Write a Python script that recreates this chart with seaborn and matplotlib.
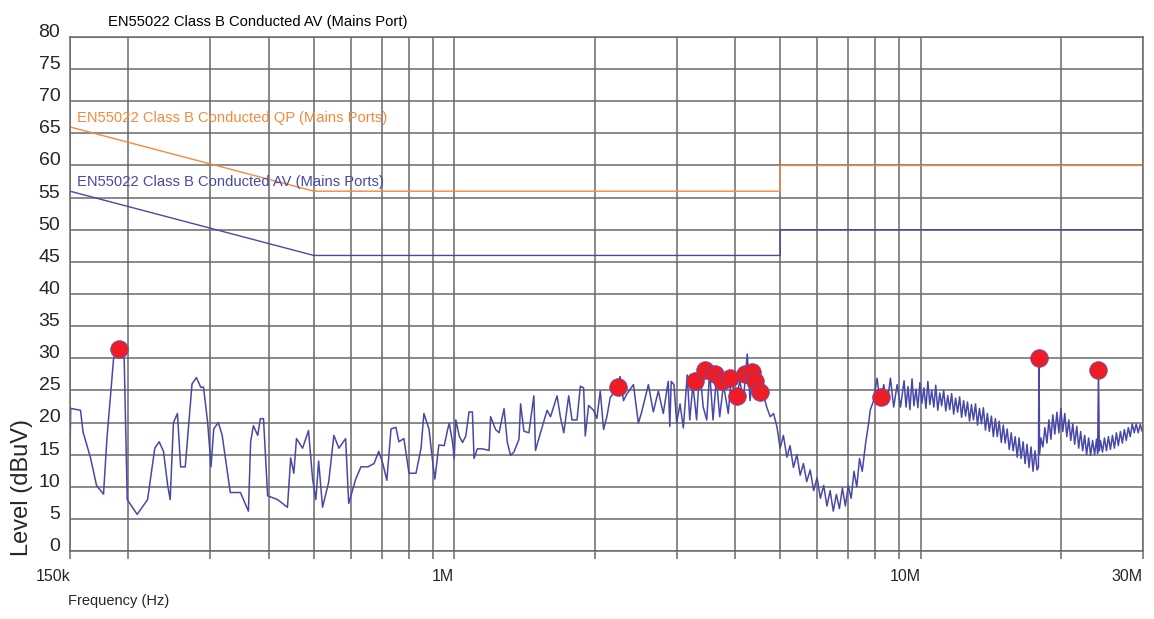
import numpy as np
import pandas as pd
import matplotlib
matplotlib.use('Agg')
import matplotlib.pyplot as plt
import seaborn as sns
from matplotlib.ticker import FixedLocator, NullFormatter

low_freq = [0.150, 0.1505, 0.158, 0.160, 0.166, 0.171, 0.177, 0.180, 0.186, 0.190,
            0.196, 0.199, 0.209, 0.220, 0.228, 0.233, 0.238, 0.243, 0.246, 0.250,
            0.255, 0.259, 0.265, 0.274, 0.280, 0.286, 0.290, 0.296, 0.301, 0.305,
            0.312, 0.318, 0.331, 0.348, 0.362, 0.366, 0.371, 0.379, 0.384, 0.390,
            0.398, 0.418, 0.439, 0.446, 0.453, 0.459, 0.473, 0.487, 0.497, 0.505,
            0.512, 0.522, 0.538, 0.552, 0.566, 0.585, 0.594, 0.615, 0.631, 0.653,
            0.673, 0.689, 0.703, 0.717, 0.732, 0.750, 0.761, 0.780, 0.800, 0.828,
            0.849, 0.861, 0.883, 0.900, 0.909, 0.927]
low_level = [15.0, 22.2, 21.9, 18.5, 14.5, 10.2, 8.85, 17.5, 29.9, 31.5,
             29.9, 8.0, 5.7, 8.0, 16.0, 17.0, 15.5, 10.2, 8.0, 20.0,
             21.4, 13.1, 13.1, 26.0, 27.0, 25.5, 25.5, 20.0, 13.1, 19.0,
             20.0, 18.0, 9.1, 9.1, 6.2, 17.0, 19.5, 18.0, 20.6, 20.6,
             8.6, 8.0, 6.8, 14.5, 12.1, 17.5, 16.0, 18.75, 11.2, 8.0,
             14.0, 6.8, 10.7, 18.0, 16.0, 17.5, 7.4, 11.2, 13.1, 13.1,
             13.6, 15.5, 13.6, 11.0, 19.0, 19.25, 17.0, 17.5, 12.1, 12.1,
             16.0, 21.4, 19.0, 13.6, 11.2, 16.5]

mid_freq = [0.952, 0.968, 0.976, 0.992, 1.0, 1.008, 1.025, 1.042, 1.059, 1.076,
            1.094, 1.103, 1.121, 1.15, 1.188, 1.197, 1.227, 1.248, 1.279, 1.3,
            1.321, 1.343, 1.377, 1.388, 1.411, 1.446, 1.482, 1.494, 1.531, 1.582,
            1.609, 1.662, 1.689, 1.718, 1.76, 1.789, 1.834, 1.864, 1.895, 1.91,
            1.942, 1.99, 2.023, 2.057, 2.091, 2.125, 2.161, 2.214, 2.269, 2.307,
            2.344, 2.423, 2.483, 2.524, 2.609, 2.673, 2.74, 2.808, 2.877, 2.9]
mid_level = [16.4, 18.9, 19.9, 16.9, 14.4, 20.4, 17.9, 16.9, 17.9, 21.65,
             21.65, 14.4, 15.9, 15.9, 15.65, 20.9, 18.9, 18.4, 22.15, 16.9,
             14.9, 15.4, 17.4, 22.9, 18.65, 18.4, 24.15, 15.65, 18.4, 21.9,
             20.9, 24.15, 20.9, 18.4, 24.15, 20.4, 20.4, 25.65, 25.4, 17.9,
             22.65, 21.9, 20.65, 24.9, 18.9, 20.9, 23.9, 24.9, 27.15, 23.4,
             24.4, 25.9, 19.9, 21.65, 25.9, 21.65, 24.9, 21.4, 26.4, 19.4]

band_freq = [2.92, 2.96, 3.0, 3.05, 3.10, 3.16, 3.20, 3.25, 3.31, 3.36,
             3.42, 3.48, 3.53, 3.59, 3.65, 3.71, 3.78, 3.87, 3.93, 4.0,
             4.10, 4.17, 4.25, 4.31, 4.38, 4.45, 4.53, 4.60, 4.68, 4.76,
             4.84, 4.92, 5.0, 5.08, 5.17, 5.25, 5.34, 5.43, 5.52, 5.61,
             5.70, 5.80, 5.90, 6.00, 6.10, 6.20, 6.30, 6.40, 6.50, 6.60,
             6.70, 6.80, 6.90, 7.00, 7.10, 7.20, 7.30, 7.40, 7.50, 7.62,
             7.74, 7.80, 7.93, 8.07, 8.20, 8.34, 8.48, 8.62, 8.76, 8.91,
             9.06]
band_level = [26.4, 25.9, 19.9, 22.9, 19.15, 27.4, 20.4, 25.9, 20.4, 28.4,
              22.4, 20.4, 27.9, 20.4, 26.9, 20.9, 25.9, 21.4, 27.4, 23.4,
              26.4, 23.4, 30.65, 23.4, 27.9, 24.9, 25.9, 24.4, 22.4, 20.9,
              21.4, 19.4, 16.0, 18.0, 14.6, 16.4, 13.0, 15.0, 11.8, 13.6,
              10.8, 12.6, 9.4, 11.4, 8.2, 10.2, 7.0, 9.4, 6.2, 8.8,
              6.6, 9.8, 7.0, 10.2, 8.2, 12.4, 10.0, 14.4, 12.4, 16.6,
              19.9, 21.9, 23.4, 26.9, 22.9, 25.9, 22.9, 26.9, 22.4, 25.9,
              22.4]

high_freq = [9.22, 9.31, 9.40, 9.49, 9.59, 9.68, 9.78, 9.87, 9.97, 10.07,
             10.17, 10.27, 10.37, 10.47, 10.57, 10.68, 10.78, 10.89, 11.00, 11.10,
             11.21, 11.33, 11.44, 11.55, 11.66, 11.78, 11.89, 12.01, 12.13, 12.25,
             12.37, 12.49, 12.61, 12.74, 12.86, 12.99, 13.12, 13.25, 13.38, 13.51,
             13.64, 13.78, 13.91, 14.05, 14.19, 14.33, 14.47, 14.61, 14.75, 14.90,
             15.05, 15.19, 15.34, 15.50, 15.65, 15.80, 15.96, 16.12, 16.27, 16.43,
             16.60, 16.76, 16.92, 17.09, 17.26, 17.43, 17.60, 17.78, 17.90, 17.95,
             18.00, 18.13, 18.30, 18.48, 18.67, 18.85, 19.04, 19.22, 19.41, 19.61,
             19.80, 20.00, 20.19, 20.39, 20.59, 20.80, 21.00, 21.21, 21.41, 21.63,
             21.84, 22.05, 22.27, 22.49, 22.71, 22.94, 23.16, 23.39, 23.62, 23.85,
             23.98, 24.08, 24.18, 24.32, 24.56, 24.80, 25.05, 25.29, 25.54, 25.80,
             26.05, 26.31, 26.56, 26.83, 27.09, 27.36, 27.62, 27.90, 28.17, 28.45,
             28.73, 29.01, 29.30, 29.59, 29.88]
high_level = [26.5, 22.4, 25.6, 22.0, 26.8, 22.6, 25.2, 22.3, 26.2, 23.0,
              25.4, 22.2, 26.4, 22.8, 25.0, 22.4, 25.8, 21.9, 24.6, 22.6,
              25.0, 21.8, 24.2, 22.0, 24.5, 21.3, 23.8, 21.6, 24.0, 20.8,
              23.4, 21.0, 23.2, 20.2, 22.8, 20.4, 22.9, 19.6, 22.2, 19.8,
              22.3, 18.8, 21.4, 18.6, 21.0, 17.8, 20.6, 17.8, 20.2, 16.9,
              19.6, 16.8, 19.0, 15.8, 18.4, 15.6, 17.8, 14.6, 17.6, 14.4,
              17.0, 13.6, 16.6, 13.0, 16.2, 12.4, 15.6, 12.6, 13.0, 30.0,
              15.0, 17.6, 16.2, 19.2, 16.8, 20.4, 17.4, 21.2, 18.2, 21.6,
              18.4, 22.2, 18.6, 21.4, 17.8, 20.4, 17.2, 19.8, 16.6, 19.4,
              16.0, 18.6, 15.6, 18.0, 15.0, 17.6, 14.9, 17.2, 15.0, 17.4,
              15.2, 28.2, 15.6, 17.2, 15.4, 17.6, 15.6, 17.8, 15.8, 18.0,
              16.0, 18.4, 16.4, 18.6, 16.8, 18.9, 17.2, 19.2, 17.8, 19.8,
              18.4, 19.8, 18.4, 19.7, 18.6]

# peak markers
peak_freq = [0.191, 2.25, 3.28, 3.45, 3.62, 3.75, 3.90, 4.04, 4.20, 4.35,
             4.42, 4.53, 8.24, 17.95, 24.08]
peak_level = [31.5, 25.5, 26.4, 28.2, 27.5, 26.4, 27.0, 24.1, 27.5, 27.8,
              26.4, 24.8, 24.0, 30.0, 28.2]

# EN55022 class B limits
qp_freq = [0.15, 0.5, 5.0, 5.0, 30.0]
qp_level = [66, 56, 56, 60, 60]
av_freq = [0.15, 0.5, 5.0, 5.0, 30.0]
av_level = [56, 46, 46, 50, 50]

trace = pd.DataFrame({'freq': low_freq + mid_freq + band_freq + high_freq,
                      'level': low_level + mid_level + band_level + high_level})
peaks = pd.DataFrame({'freq': peak_freq, 'level': peak_level})
qp = pd.DataFrame({'freq': qp_freq, 'level': qp_level})
av = pd.DataFrame({'freq': av_freq, 'level': av_level})

sns.set_theme(style='white')
plt.rcParams['font.family'] = ['Liberation Sans', 'DejaVu Sans']

BLUE = '#4848a8'
ORANGE = '#f28a3e'
GRID = '#6a6a6a'

fig = plt.figure(figsize=(11.54, 6.19), dpi=100)
ax = fig.add_axes([70 / 1154, 1 - 551 / 619, 1073 / 1154, 514 / 619])

sns.lineplot(data=qp, x='freq', y='level', sort=False, estimator=None,
             color=ORANGE, lw=1, ax=ax)
sns.lineplot(data=av, x='freq', y='level', sort=False, estimator=None,
             color=BLUE, lw=1, ax=ax)
sns.lineplot(data=trace, x='freq', y='level', sort=False, estimator=None,
             color=BLUE, lw=1.1, ax=ax)
sns.scatterplot(data=peaks, x='freq', y='level', s=160, color='#ee1d25',
                edgecolor='#6a4aa8', linewidth=0.6, zorder=5, ax=ax)

ax.set_xscale('log')
ax.set_xlim(0.15, 30)
ax.set_ylim(0, 80)
ax.set_xlabel('')
ax.set_ylabel('')

ax.set_xticks([0.15, 1, 10, 30])
ax.set_xticklabels(['150k', '1M', '10M', '30M'], ha='right', fontsize=11.5)
minor = [0.2, 0.3, 0.4, 0.5, 0.6, 0.7, 0.8, 0.9,
         2, 3, 4, 5, 6, 7, 8, 9, 20]
ax.xaxis.set_minor_locator(FixedLocator(minor))
ax.xaxis.set_minor_formatter(NullFormatter())
ax.set_yticks(range(0, 81, 5))
ax.set_yticklabels([str(v) for v in range(0, 81, 5)], fontsize=14)
plt.setp(ax.get_yticklabels(), va='baseline')

ax.grid(True, which='both', color=GRID, lw=1.1)
ax.tick_params(axis='x', which='both', direction='out', length=6,
               width=1.1, color=GRID, pad=7, bottom=True)
ax.tick_params(axis='y', length=0, pad=7)
for sp in ax.spines.values():
    sp.set_color(GRID)
    sp.set_linewidth(1.1)
ax.set_axisbelow(True)

fig.text(108 / 1154, 1 - 22 / 619, 'EN55022 Class B Conducted AV (Mains Port)',
         fontsize=10.6, va='center', ha='left', color='black')
fig.text(77 / 1154, 1 - 118 / 619, 'EN55022 Class B Conducted QP (Mains Ports)',
         fontsize=10.6, va='center', ha='left', color=ORANGE)
fig.text(77 / 1154, 1 - 182 / 619, 'EN55022 Class B Conducted AV (Mains Ports)',
         fontsize=10.6, va='center', ha='left', color=BLUE)
fig.text(22 / 1154, 1 - 487 / 619, 'Level (dBuV)', rotation=90,
         fontsize=17, va='center', ha='center')
fig.text(68 / 1154, 1 - 601 / 619, 'Frequency (Hz)',
         fontsize=10.5, va='center', ha='left')

fig.savefig('out.png', dpi=100)
